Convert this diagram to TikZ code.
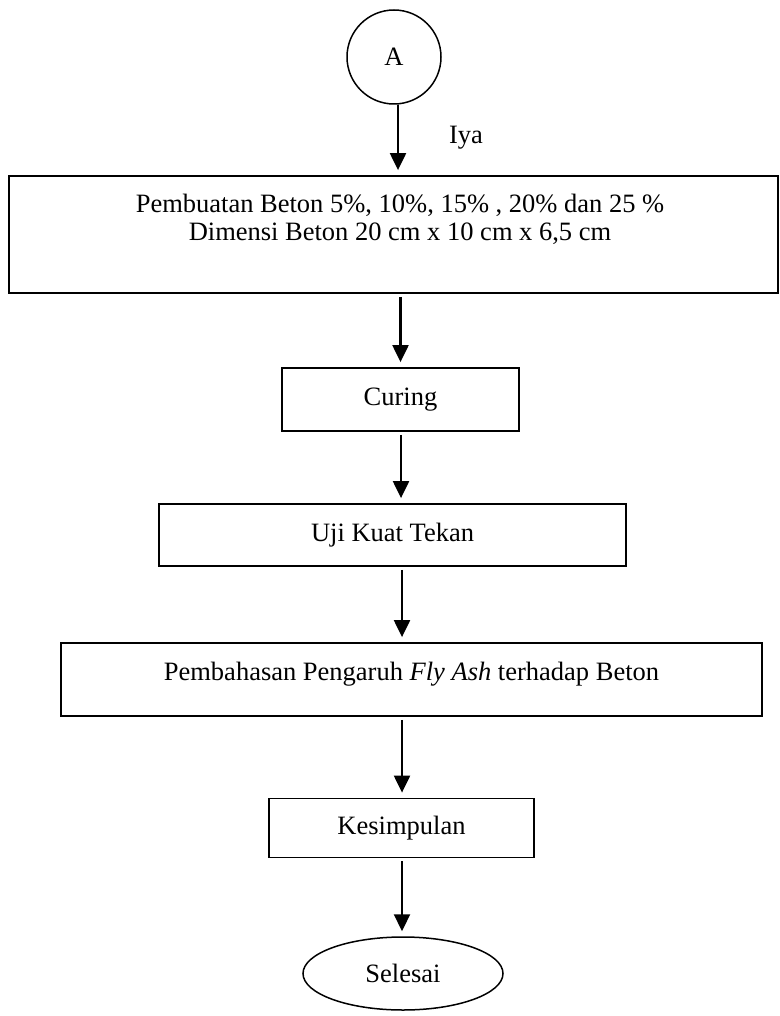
\documentclass[tikz,border=0pt]{standalone}
\usepackage{fontspec}
\setmainfont{Liberation Serif}
\usetikzlibrary{arrows.meta,shapes.geometric}
\begin{document}
\begin{tikzpicture}[x=1pt,y=-1pt,
  every node/.style={font=\fontsize{26.5}{28}\selectfont},
  box/.style={draw,line width=1.8pt,rectangle,inner sep=0pt},
  txt/.style={inner sep=0pt,align=center},
  arr/.style={line width=2.2pt,-{Triangle[width=16pt,length=17pt]},shorten <=3pt,shorten >=5pt}]
\useasboundingbox (0,0) rectangle (779,1016);
\node[draw,line width=1.5pt,circle,minimum size=94pt,inner sep=0pt] (A) at (394,57) {A};
\node[txt] (iya) at (466,138) {Iya};
\node[box,minimum width=769pt,minimum height=117pt] (b1) at (393.5,234.5) {};
\node[txt] (b1t) at (400,219) {Pembuatan Beton 5\%, 10\%, 15\% , 20\% dan 25 \%\\Dimensi Beton 20 cm x 10 cm x 6,5 cm};
\node[box,minimum width=237pt,minimum height=63pt] (cur) at (400.5,399.5) {Curing};
\node[box,minimum width=467pt,minimum height=62pt] (uji) at (392.5,535) {Uji Kuat Tekan};
\node[box,minimum width=701pt,minimum height=73pt] (b4) at (411.5,679.5) {};
\node[txt] (b4t) at (411.5,674) {Pembahasan Pengaruh \textit{Fly Ash} terhadap Beton};
\node[box,minimum width=265pt,minimum height=59pt] (kes) at (401.5,828) {Kesimpulan};
\node[draw,line width=1.5pt,ellipse,minimum width=200pt,minimum height=73pt,inner sep=0pt] (sel) at (403,973.5) {Selesai};
\draw[arr,shorten <=0pt] ([xshift=4pt]A.south) -- ([xshift=4pt]A.south |- b1.north);
\draw[arr] ([xshift=7pt]b1.south) -- ([xshift=7pt]b1.south |- cur.north);
\draw[arr] ([xshift=0.5pt]cur.south) -- ([xshift=0.5pt]cur.south |- uji.north);
\draw[arr] ([xshift=9.5pt]uji.south) -- ([xshift=9.5pt]uji.south |- b4.north);
\draw[arr] ([xshift=-9.5pt]b4.south) -- ([xshift=-9.5pt]b4.south |- kes.north);
\draw[arr] ([xshift=0.5pt]kes.south) -- ([xshift=0.5pt]kes.south |- sel.north);
\end{tikzpicture}
\end{document}
